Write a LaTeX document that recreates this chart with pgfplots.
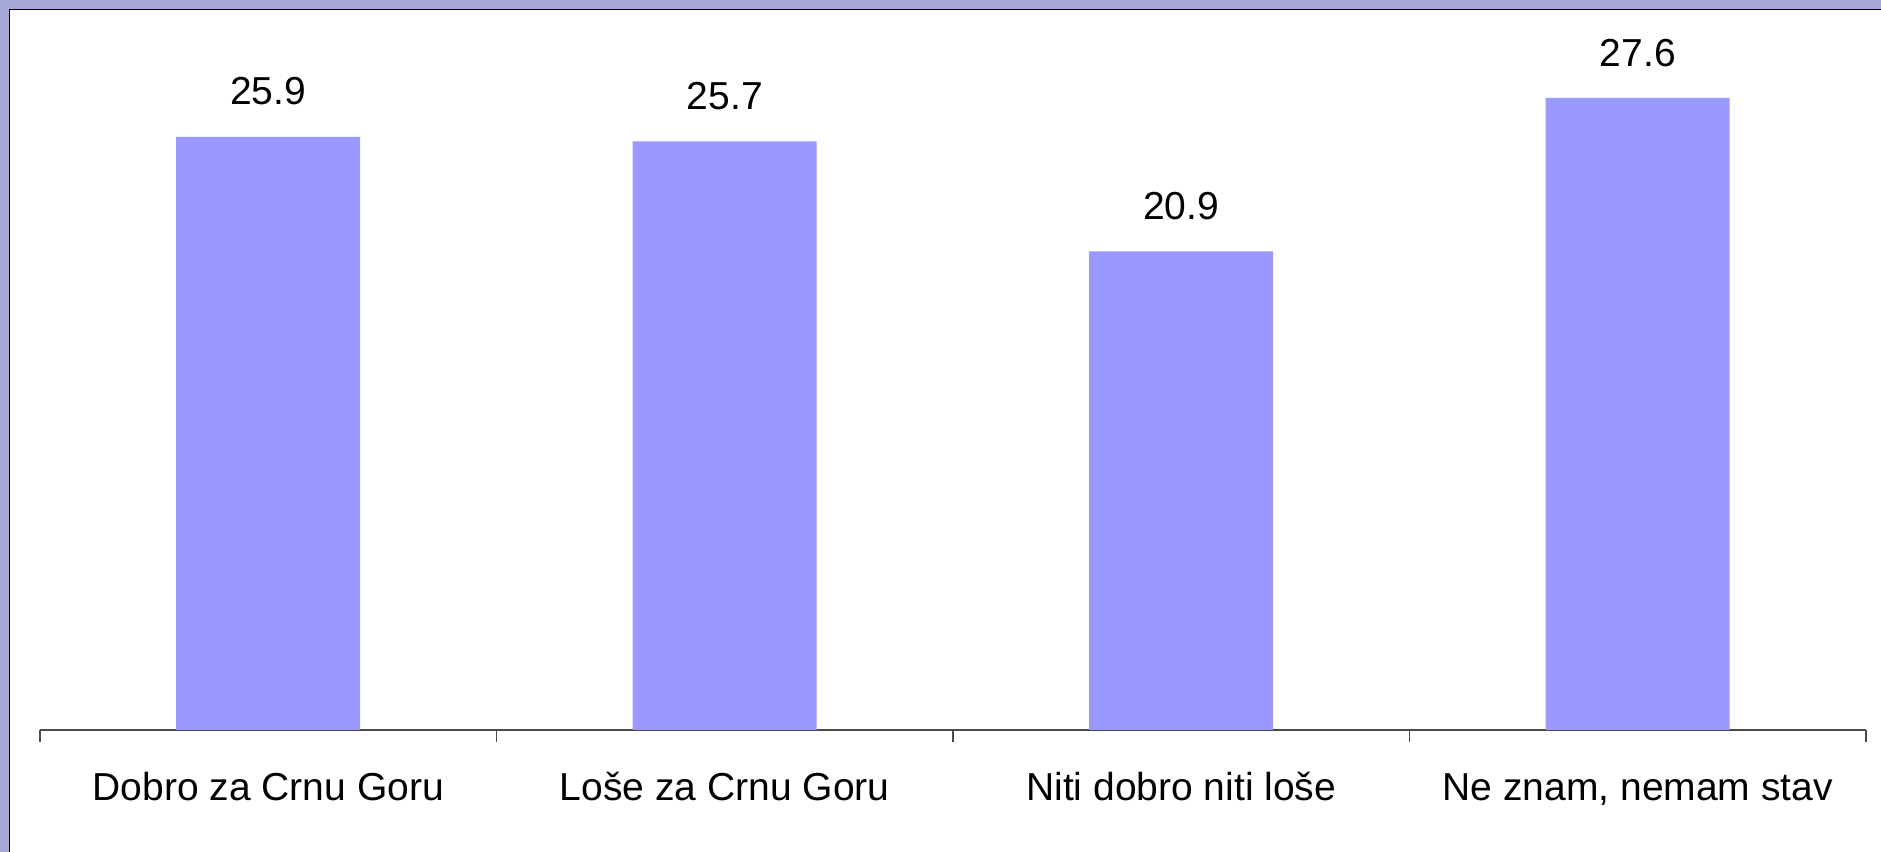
\documentclass[border=0pt]{standalone}
\usepackage{pgfplots}
\pgfplotsset{compat=1.18}
\usepackage{fontspec}
\setmainfont{Liberation Sans}
\definecolor{framecol}{HTML}{A9A9D8}
\definecolor{barcol}{HTML}{9999FF}
\definecolor{axcol}{HTML}{4A4A4A}
\begin{document}
\begin{tikzpicture}
\useasboundingbox (0,0) rectangle (18.81cm,8.52cm);
\fill[framecol] (0,0) rectangle (18.81cm,8.52cm);
\fill[white] (0.09cm,0) rectangle (18.81cm,8.42cm);
\draw[line width=0.45pt] (0.097cm,0) -- (0.097cm,8.423cm) -- (18.81cm,8.423cm);
\begin{axis}[
  at={(0.40cm,1.22cm)}, anchor=south west,
  scale only axis, width=18.26cm, height=7.19cm,
  xmin=0.5, xmax=4.5, ymin=0, ymax=31.4,
  axis x line*=bottom, axis y line=none,
  axis line style={axcol, line width=0.35pt},
  xtick={1,2,3,4},
  xticklabels={Dobro za Crnu Goru, Loše za Crnu Goru, Niti dobro niti loše, {Ne znam, nemam stav}},
  major tick length=0pt,
  minor xtick={0.5,1.5,2.5,3.5,4.5},
  minor tick length=0.12cm,
  xtick align=outside,
  minor tick style={axcol, line width=0.35pt},
  xticklabel style={font=\fontsize{11.1}{13.3}\selectfont, anchor=base, yshift=-20.2pt},
  ytick=\empty,
  clip=false,
  ybar, bar width=1.84cm,
  nodes near coords,
  every node near coord/.style={font=\fontsize{11.1}{13.3}\selectfont, anchor=base, yshift=9.1pt, black},
  nodes near coords style={/pgf/number format/.cd, fixed, fixed zerofill, precision=1, assume math mode=true},
]
\addplot[fill=barcol, draw=none] coordinates {(1,25.9) (2,25.7) (3,20.9) (4,27.6)};
\end{axis}
\end{tikzpicture}
\end{document}
